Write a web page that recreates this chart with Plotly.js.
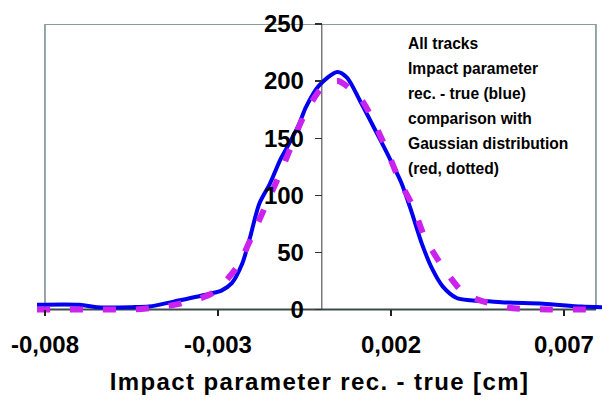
<!DOCTYPE html>
<html>
<head>
<meta charset="utf-8">
<script src="https://cdn.plot.ly/plotly-3.0.1.min.js"></script>
<style>
  html, body { margin: 0; padding: 0; background: #ffffff; }
  #chart { width: 602px; height: 401px; }
  .xtitle { letter-spacing: 1.4px; }
</style>
</head>
<body>
<div id="chart"></div>
<script>
// Measured series (impact parameter rec. - true, cm) and counts
const blueX = [-0.00823, -0.0070, -0.0065, -0.0055, -0.0050, -0.0041, -0.0032, -0.0029, -0.0026, -0.0023,
               -0.0021, -0.0018, -0.0015, -0.0012, -0.0010, -0.00066, -0.00046, -0.00008, 0.00045, 0.00073,
               0.0011, 0.0017, 0.0020, 0.0023, 0.0026, 0.0029, 0.0032, 0.0035, 0.0039, 0.0043,
               0.0049, 0.0054, 0.0064, 0.0075, 0.0081];
const blueY = [4, 4, 2, 2, 2.5, 8, 14, 16.5, 23, 40,
               60, 93, 110, 131, 142, 162, 177, 196, 208, 203,
               183, 148, 130, 111, 85, 57, 35, 20, 10, 8,
               7, 6, 5, 2.5, 2];

const gaussX = [-0.00823, -0.00733, -0.00635, -0.0054, -0.00444, -0.00358, -0.00312, -0.00245, -0.00202, -0.00156,
                -0.00112, -0.00054, 0.0, 0.00047, 0.00116, 0.00183, 0.00226, 0.00264, 0.00298, 0.0035,
                0.00408, 0.00457, 0.00553, 0.00654, 0.00755, 0.0081];
const gaussY = [0, 0, 0, 0, 3, 9, 15, 37, 64, 95,
                125, 168, 194, 200, 183, 143, 112, 90, 63, 37,
                15, 8, 1, 0, 0, 0];

const xTickVals = [-0.008, -0.003, 0.002, 0.007];
const xTickText = ['-0,008', '-0,003', '0,002', '0,007'];
const yTickVals = [0, 50, 100, 150, 200, 250];
const yTickText = ['0', '50', '100', '150', '200', '250'];

const noteLines = ['All tracks', 'Impact parameter', 'rec. - true (blue)', 'comparison with',
                   'Gaussian distribution', '(red, dotted)'];
const xTitle = 'Impact parameter rec. - true [cm]';

const xRange = [-0.00823, 0.0081];
const yRange = [-4, 250];
const frameLeft = -0.008;
const frameRight = 0.007925;
const frameTop = 250;

const FONT = 'Liberation Sans, Arial, sans-serif';
const yAxisPos = (0 - xRange[0]) / (xRange[1] - xRange[0]);
const xAxisPos = (0 - yRange[0]) / (yRange[1] - yRange[0]);

const traces = [
  {
    x: blueX, y: blueY, type: 'scatter', mode: 'lines',
    line: { color: '#0000ee', width: 4, shape: 'spline', smoothing: 0.8 },
    name: 'rec. - true', hoverinfo: 'x+y'
  },
  {
    x: gaussX, y: gaussY, type: 'scatter', mode: 'lines',
    line: { color: '#cc22ee', width: 6, dash: '13px,20px', shape: 'spline', smoothing: 0.7 },
    name: 'Gaussian', hoverinfo: 'x+y'
  }
];

const annotations = noteLines.map((t, i) => ({
  text: t, xref: 'paper', yref: 'paper',
  x: (406 - 37) / 565, y: (314 - (43 + 25 * i)) / 290,
  xanchor: 'left', yanchor: 'middle', showarrow: false, align: 'left',
  font: { family: FONT, size: 15.6, color: '#000000', weight: 'bold' }
}));

const frameLine = { color: '#8c9c9c', width: 1.8 };
const shapes = [
  { type: 'line', xref: 'x', yref: 'y', layer: 'below', x0: frameLeft, x1: frameLeft, y0: 0, y1: frameTop, line: frameLine },
  { type: 'line', xref: 'x', yref: 'y', layer: 'below', x0: frameLeft, x1: frameRight, y0: frameTop, y1: frameTop, line: frameLine },
  { type: 'line', xref: 'x', yref: 'y', layer: 'below', x0: frameRight, x1: frameRight, y0: 0, y1: frameTop, line: frameLine },
  // y axis line at x = 0
  { type: 'line', xref: 'x', yref: 'y', layer: 'below', x0: 0, x1: 0, y0: 0, y1: frameTop,
    line: { color: '#7a7a7a', width: 1.5 } },
  // x axis line at y = 0
  { type: 'line', xref: 'x', yref: 'y', layer: 'below', x0: frameLeft, x1: frameRight, y0: 0, y1: 0,
    line: { color: '#3c4a48', width: 2 } }
];

const layout = {
  width: 602, height: 401,
  margin: { l: 37, r: 0, t: 24, b: 87, pad: 0 },
  paper_bgcolor: '#ffffff', plot_bgcolor: '#ffffff',
  showlegend: false,
  xaxis: {
    range: xRange, anchor: 'free', position: xAxisPos,
    showgrid: false, zeroline: false, showline: false,
    tickmode: 'array', tickvals: xTickVals, ticktext: xTickText,
    ticks: 'outside', ticklen: 6, tickwidth: 1.2, tickcolor: '#202020',
    tickfont: { family: FONT, size: 24, color: '#000000', weight: 'bold' },
    ticklabelstandoff: 8,
    title: { text: xTitle, standoff: 15,
             font: { family: FONT, size: 24, color: '#000000', weight: 'bold' } }
  },
  yaxis: {
    range: yRange, anchor: 'free', position: yAxisPos, side: 'left',
    showgrid: false, zeroline: false, showline: false,
    tickmode: 'array', tickvals: yTickVals, ticktext: yTickText,
    ticks: 'outside', ticklen: 7, tickwidth: 1.2, tickcolor: '#303030',
    tickfont: { family: FONT, size: 24, color: '#000000', weight: 'bold' },
    ticklabelstandoff: 6
  },
  annotations: annotations,
  shapes: shapes
};

Plotly.newPlot('chart', traces, layout, { staticPlot: true, displayModeBar: false });
</script>
</body>
</html>
